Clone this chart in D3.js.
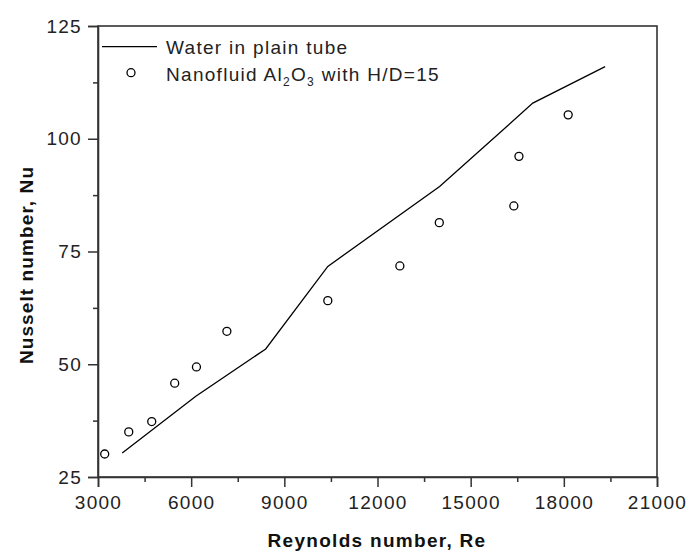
<!DOCTYPE html>
<html>
<head>
<meta charset="utf-8">
<script src="https://cdn.jsdelivr.net/npm/d3@7"></script>
<style>
  html, body { margin: 0; padding: 0; background: #fff; }
  svg { display: block; }
  text { font-family: "Liberation Sans", Arial, sans-serif; }
</style>
</head>
<body>
<div id="chart"></div>
<script>
// Water in plain tube (line)
const waterRe = [3780, 6150, 8400, 10400, 14000, 17000, 19330];
const waterNu = [30.3, 42.9, 53.4, 71.7, 89.4, 107.9, 116.0];
// Nanofluid Al2O3 with H/D=15 (circles)
const nanoRe = [3216, 3990, 4730, 5470, 6170, 7150, 10400, 12720, 13990, 16390, 16555, 18140];
const nanoNu = [30.1, 35.0, 37.3, 45.8, 49.4, 57.3, 64.1, 71.8, 81.4, 85.1, 96.1, 105.3];
// Axis ticks
const xTicks = [3000, 6000, 9000, 12000, 15000, 18000, 21000];
const xMinor = [4500, 7500, 10500, 13500, 16500, 19500];
const yTicks = [25, 50, 75, 100, 125];
const yMinor = [37.5, 62.5, 87.5, 112.5];

const W = 689, H = 552;
const m = { left: 98, top: 26, right: 657, bottom: 477 };

const svg = d3.select("#chart").append("svg").attr("width", W).attr("height", H);

const x = d3.scaleLinear().domain([3000, 21000]).range([m.left, m.right]);
const y = d3.scaleLinear().domain([25, 125]).range([m.bottom, m.top]);

const axisColor = "#333";
const textColor = "#222";

// frame
svg.append("rect")
  .attr("x", m.left).attr("y", m.top)
  .attr("width", m.right - m.left).attr("height", m.bottom - m.top)
  .attr("fill", "none").attr("stroke", axisColor).attr("stroke-width", 1.6);

// x axis
svg.append("g").attr("transform", `translate(0,${m.bottom})`)
  .call(d3.axisBottom(x).tickValues(xTicks).tickSize(10).tickPadding(9).tickFormat(d3.format("d")));
svg.append("g").attr("transform", `translate(0,${m.bottom})`)
  .call(d3.axisBottom(x).tickValues(xMinor).tickSize(5).tickFormat(""))
  .call(g => g.select(".domain").remove());

// y axis
svg.append("g").attr("transform", `translate(${m.left},0)`)
  .call(d3.axisLeft(y).tickValues(yTicks).tickSize(10).tickPadding(6).tickFormat(d3.format("d")));
svg.append("g").attr("transform", `translate(${m.left},0)`)
  .call(d3.axisLeft(y).tickValues(yMinor).tickSize(5).tickFormat(""))
  .call(g => g.select(".domain").remove());

svg.selectAll(".domain").attr("stroke", axisColor).attr("stroke-width", 1.6);
svg.selectAll(".tick line").attr("stroke", axisColor).attr("stroke-width", 1.5);
svg.selectAll(".tick text")
  .attr("fill", textColor)
  .style("font-size", "19px")
  .style("letter-spacing", "1.3px")
  .style("font-family", "'Liberation Sans', Arial, sans-serif");

// axis titles
svg.append("text")
  .attr("x", 377).attr("y", 547)
  .attr("text-anchor", "middle")
  .attr("fill", "#111")
  .style("font-size", "19px").style("font-weight", "bold").style("letter-spacing", "1.3px")
  .text("Reynolds number, Re");

svg.append("text")
  .attr("transform", "translate(33,265) rotate(-90)")
  .attr("text-anchor", "middle")
  .attr("fill", "#111")
  .style("font-size", "19px").style("font-weight", "bold").style("letter-spacing", "1.1px")
  .text("Nusselt number, Nu");

// line
const lineData = waterRe.map((r, i) => [r, waterNu[i]]);
svg.append("path")
  .datum(lineData)
  .attr("fill", "none").attr("stroke", "#000").attr("stroke-width", 1.3)
  .attr("d", d3.line().x(d => x(d[0])).y(d => y(d[1])));

// circles
const ptData = nanoRe.map((r, i) => [r, nanoNu[i]]);
svg.append("g").selectAll("circle").data(ptData).join("circle")
  .attr("cx", d => x(d[0])).attr("cy", d => y(d[1])).attr("r", 4)
  .attr("fill", "#fff").attr("stroke", "#000").attr("stroke-width", 1.3);

// legend
const leg = svg.append("g");
leg.append("line").attr("x1", 102).attr("x2", 157).attr("y1", 46.7).attr("y2", 46.7)
  .attr("stroke", "#000").attr("stroke-width", 1.3);
leg.append("text").attr("x", 166).attr("y", 54)
  .attr("fill", textColor).style("font-size", "19px").style("letter-spacing", "1.3px")
  .text("Water in plain tube");
leg.append("circle").attr("cx", 131).attr("cy", 72.7).attr("r", 4)
  .attr("fill", "#fff").attr("stroke", "#000").attr("stroke-width", 1.3);
const t2 = leg.append("text").attr("x", 166).attr("y", 81)
  .attr("fill", textColor).style("font-size", "19px").style("letter-spacing", "1.3px");
t2.append("tspan").text("Nanofluid Al");
t2.append("tspan").attr("dy", 5).style("font-size", "12px").text("2");
t2.append("tspan").attr("dy", -5).text("O");
t2.append("tspan").attr("dy", 5).style("font-size", "12px").text("3");
t2.append("tspan").attr("dy", -5).text(" with H/D=15");
</script>
</body>
</html>
